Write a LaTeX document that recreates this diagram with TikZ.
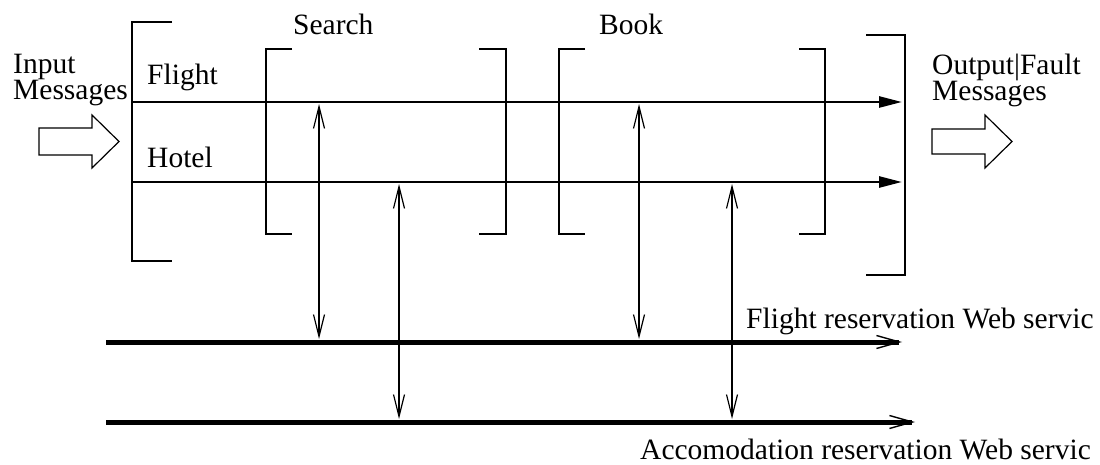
\documentclass[tikz,border=0pt]{standalone}
\usepackage{fontspec}
\setmainfont{Liberation Serif}
\usetikzlibrary{arrows.meta}
\begin{document}
\begin{tikzpicture}[x=1pt,y=-1pt,
  lbl/.style={anchor=base west,inner sep=0pt,font=\fontsize{29.5}{25}\selectfont},
  two/.style={lbl,align=left},
  bracket/.style={line width=1.3pt},
  chan/.style={line width=2.6pt,-{Triangle[length=23pt,width=11pt]}},
  ws/.style={line width=5pt,-{Straight Barb[length=23pt,width=13pt,line width=1.4pt]}},
  link/.style={line width=1.2pt,{Straight Barb[length=22pt,width=11pt]}-{Straight Barb[length=22pt,width=11pt]}},
  blockarrow/.style={line width=1.2pt,fill=white}]
\useasboundingbox (0,0) rectangle (1100,465);
% labels (base anchor of a two-line node is the last line's baseline)
\node[two] (inmsg) at (13,100) {Input\\Messages};
\node[two] (outmsg) at (932,101) {Output|Fault\\Messages};
\node[lbl] (flab) at (147,85) {Flight};
\node[lbl] (hlab) at (147,168) {Hotel};
\node[lbl] (search) at (293,35) {Search};
\node[lbl] (book) at (599,35) {Book};
\node[lbl] (fws) at (746,328) {Flight reservation Web servic};
\node[lbl] (aws) at (640,459) {Accomodation reservation Web servic};
% brackets
\draw[bracket] (172,22) -- (132,22) -- (132,261) -- (172,261);
\draw[bracket] (866,35) -- (905,35) -- (905,275) -- (866,275);
\draw[bracket] (292,49) -- (266,49) -- (266,234) -- (292,234);
\draw[bracket] (479,49) -- (506,49) -- (506,234) -- (479,234);
\draw[bracket] (585,49) -- (559,49) -- (559,234) -- (585,234);
\draw[bracket] (799,49) -- (825,49) -- (825,234) -- (799,234);
% block arrows
\draw[blockarrow] (39,128) -- (92,128) -- (92,115) -- (119,141.5) -- (92,168) -- (92,155) -- (39,155) -- cycle;
\draw[blockarrow] (932,129) -- (985,129) -- (985,115) -- (1012,141.5) -- (985,168) -- (985,154) -- (932,154) -- cycle;
% channels
\coordinate (fs) at (132,102); \coordinate (fe) at (902,102);
\coordinate (hs) at (132,182); \coordinate (he) at (902,182);
\draw[chan] (fs) -- (fe);
\draw[chan] (hs) -- (he);
% web service lines
\coordinate (w1s) at (106,342); \coordinate (w1e) at (902,342);
\coordinate (w2s) at (106,422); \coordinate (w2e) at (915,422);
\draw[ws] (w1s) -- (w1e);
\draw[ws] (w2s) -- (w2e);
% links
\coordinate (a1t) at (319,104); \coordinate (a1b) at (319,339);
\coordinate (a2t) at (399,184); \coordinate (a2b) at (399,419);
\coordinate (a3t) at (639,104); \coordinate (a3b) at (639,339);
\coordinate (a4t) at (732,184); \coordinate (a4b) at (732,419);
\draw[link] (a1t) -- (a1b);
\draw[link] (a2t) -- (a2b);
\draw[link] (a3t) -- (a3b);
\draw[link] (a4t) -- (a4b);
\end{tikzpicture}
\end{document}
